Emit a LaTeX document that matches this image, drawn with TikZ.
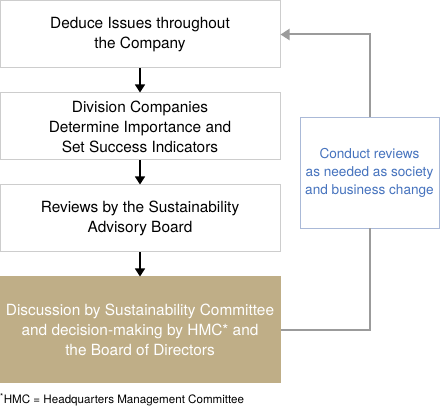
\documentclass[tikz,border=0pt]{standalone}
\usepackage{fontspec}
\setmainfont{TeX Gyre Heros}
\usetikzlibrary{arrows.meta}

\definecolor{tanfill}{RGB}{191,174,135}
\definecolor{boxline}{RGB}{205,205,205}
\definecolor{sideline}{RGB}{170,185,215}
\definecolor{sidetext}{RGB}{70,115,190}
\definecolor{loopline}{RGB}{155,155,155}

\tikzset{
  stepbox/.style={draw=boxline, line width=1pt, fill=white, minimum width=280pt,
    minimum height=67pt, align=center, inner sep=0pt,
    font=\fontsize{15.4}{20}\selectfont},
  flow/.style={-{Triangle[length=8pt, width=10pt]}, line width=1.2pt, black},
  loop/.style={-{Triangle[length=9pt, width=11pt]}, line width=2pt, loopline}
}

\begin{document}
\begin{tikzpicture}[x=1pt, y=-1pt]
  \useasboundingbox (0,0) rectangle (440,411);

  % Main steps
  \node[stepbox] (deduce) at (140,34.5) {Deduce Issues throughout\\the Company};
  \node[stepbox] (division) at (140,126.5) {Division Companies\\Determine Importance and\\Set Success Indicators};
  \node[stepbox] (advisory) at (140,218.5) {Reviews by the Sustainability\\Advisory Board};
  \node[stepbox, draw=tanfill, fill=tanfill, text=white, minimum height=106pt] (decision) at (140,330)
    {Discussion by Sustainability Committee\\and decision-making by HMC* and\\the Board of Directors};

  % Review box
  \node[draw=sideline, line width=0.8pt, fill=white, minimum width=139pt, minimum height=111pt,
    align=center, inner sep=0pt, text=sidetext, font=\fontsize{13.6}{18}\selectfont]
    (review) at (369.5,172.5) {Conduct reviews\\as needed as society\\and business change};

  % Arrows
  \draw[flow] (deduce) -- (division);
  \draw[flow] (division) -- (advisory);
  \draw[flow] (advisory) -- (decision);

  % Feedback loop
  \draw[line width=2pt, loopline] (decision.east) -| (review.south);
  \draw[loop] (review.north) |- (deduce.east);

  % Footnote
  \node[anchor=west, inner sep=0pt, font=\fontsize{11.6}{13}\selectfont] (note) at (0,400)
    {\textsuperscript{*}HMC = Headquarters Management Committee};
\end{tikzpicture}
\end{document}
